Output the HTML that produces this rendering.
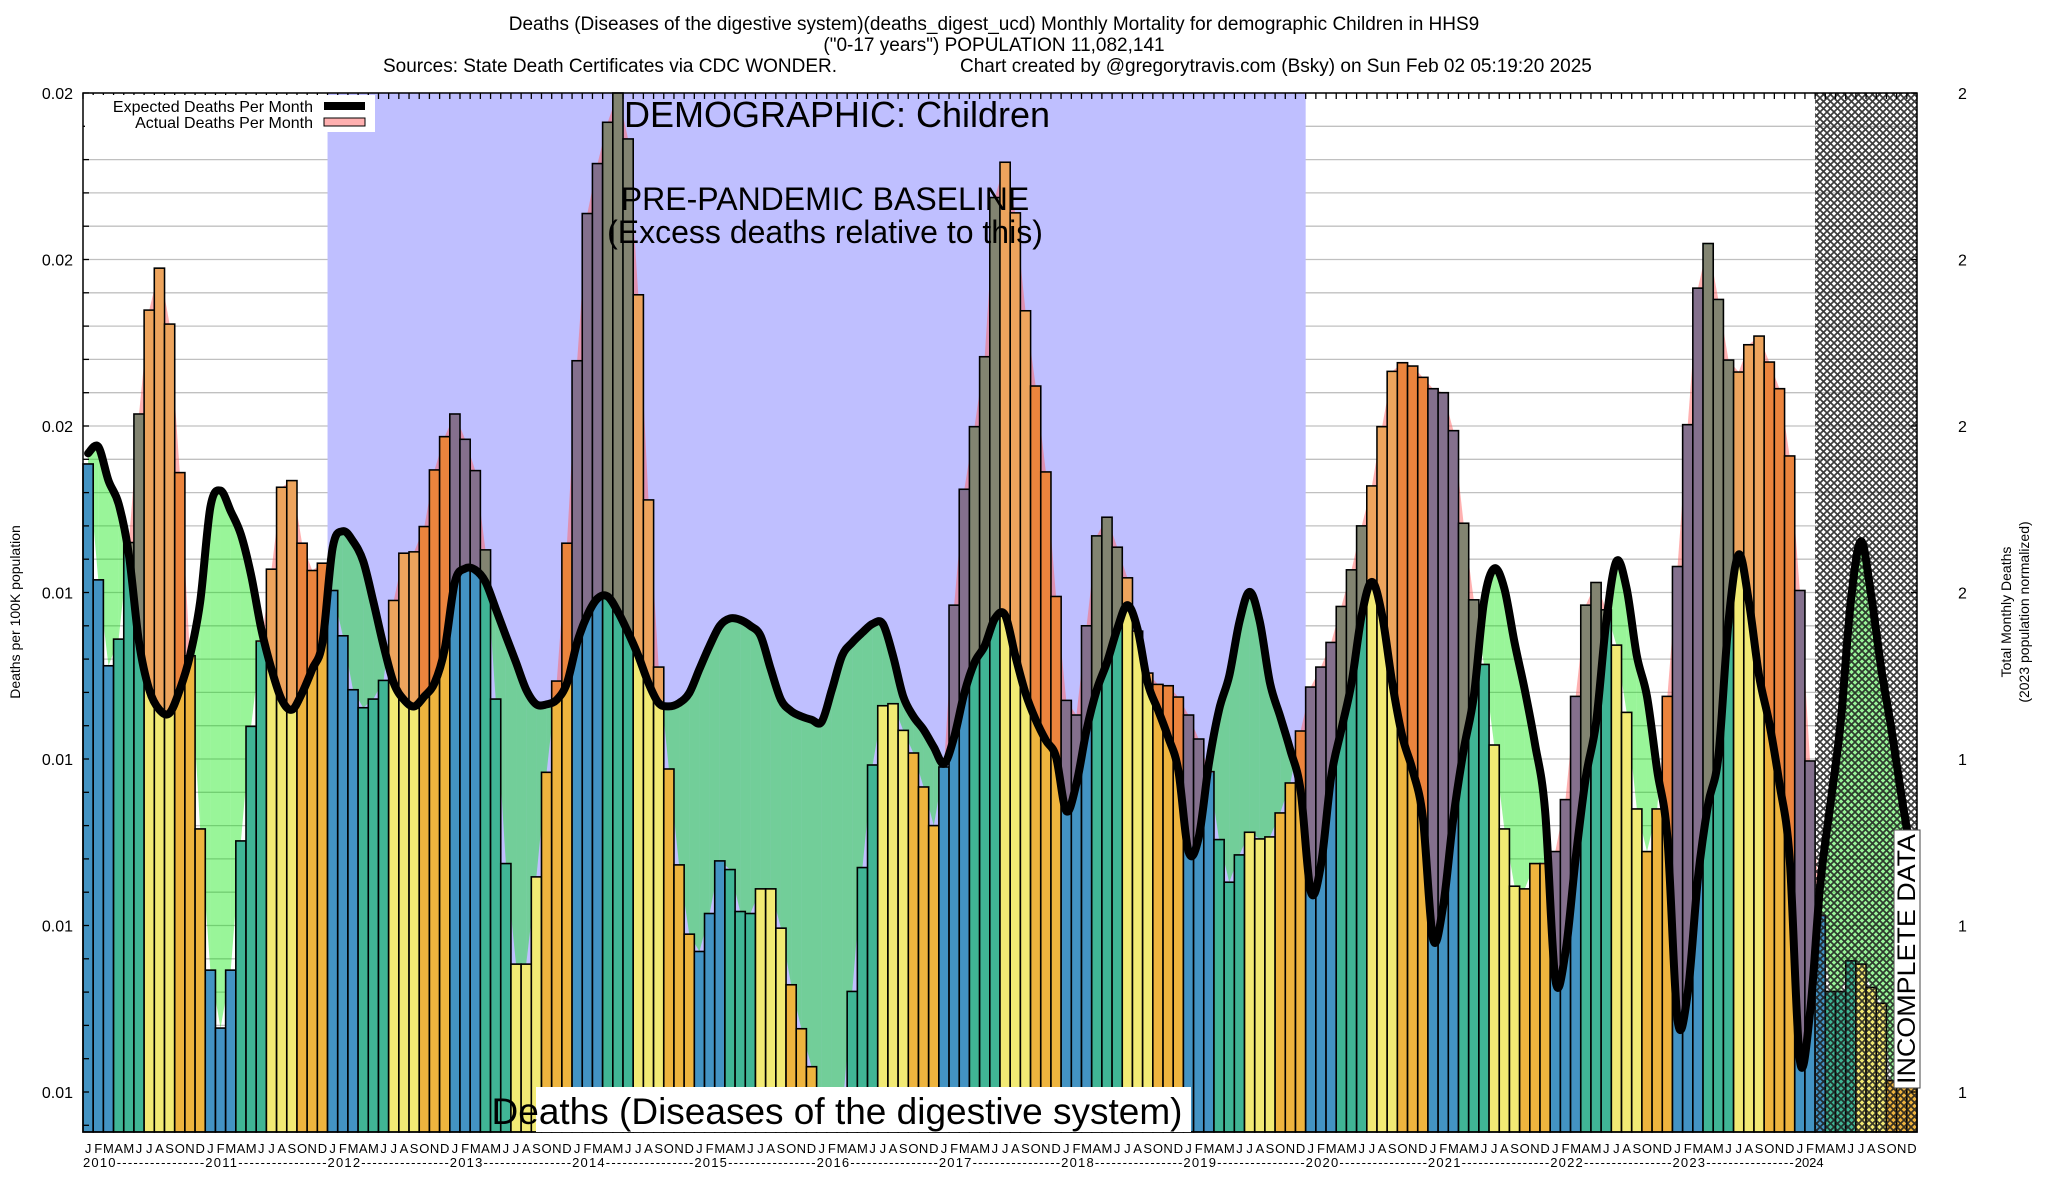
<!DOCTYPE html>
<html><head><meta charset="utf-8">
<style>
html,body{margin:0;padding:0;background:#fff;}
svg{display:block;font-family:"Liberation Sans",sans-serif;}
</style></head>
<body>
<svg id="chart" width="2048" height="1200" viewBox="0 0 2048 1200" xmlns="http://www.w3.org/2000/svg">
<defs>
<pattern id="hatch" patternUnits="userSpaceOnUse" width="7" height="7">
<path d="M0,0 L7,7 M7,0 L0,7 M-1,6 L1,8 M6,-1 L8,1" stroke="#1a1a1a" stroke-width="1.7"/>
</pattern>
</defs>
<g font-size="19" fill="#000">
<text x="994" y="30" text-anchor="middle">Deaths (Diseases of the digestive system)(deaths_digest_ucd) Monthly Mortality for demographic Children in HHS9</text>
<text x="994" y="51" text-anchor="middle">("0-17 years") POPULATION 11,082,141</text>
<text x="383" y="72">Sources: State Death Certificates via CDC WONDER.</text>
<text x="960" y="72">Chart created by @gregorytravis.com (Bsky) on Sun Feb 02 05:19:20 2025</text>
</g>
<g id="plot"></g>
<text transform="translate(20,612) rotate(-90)" text-anchor="middle" font-size="14">Deaths per 100K population</text>
<text transform="translate(2011,612) rotate(-90)" text-anchor="middle" font-size="14">Total Monthly Deaths</text>
<text transform="translate(2029,612) rotate(-90)" text-anchor="middle" font-size="14">(2023 population normalized)</text>
</svg>
<script>
const actualRates = [
0.01443,0.01269,0.01140,0.01180,0.01325,0.01518,0.01674,0.01737,0.01653,0.01430,0.01155,0.00895,
0.00683,0.00596,0.00683,0.00877,0.01049,0.01177,0.01285,0.01408,0.01418,0.01324,0.01283,0.01294,
0.01253,0.01185,0.01104,0.01077,0.01090,0.01118,0.01238,0.01309,0.01311,0.01349,0.01434,0.01484,
0.01518,0.01480,0.01433,0.01314,0.01090,0.00843,0.00692,0.00692,0.00823,0.00980,0.01117,0.01324,
0.01598,0.01819,0.01894,0.01956,0.02000,0.01931,0.01697,0.01389,0.01138,0.00985,0.00841,0.00737,
0.00711,0.00768,0.00847,0.00834,0.00771,0.00768,0.00805,0.00805,0.00746,0.00661,0.00595,0.00538,
0.00487,0.00447,0.00467,0.00651,0.00837,0.00991,0.01080,0.01083,0.01043,0.01009,0.00958,0.00900,
0.00988,0.01231,0.01405,0.01499,0.01604,0.01843,0.01896,0.01820,0.01673,0.01560,0.01431,0.01244,
0.01088,0.01066,0.01200,0.01335,0.01363,0.01318,0.01272,0.01192,0.01129,0.01112,0.01110,0.01093,
0.01066,0.01030,0.00981,0.00879,0.00815,0.00856,0.00890,0.00880,0.00883,0.00919,0.00964,0.01042,
0.01108,0.01138,0.01175,0.01229,0.01284,0.01350,0.01410,0.01499,0.01582,0.01595,0.01590,0.01573,
0.01556,0.01550,0.01493,0.01354,0.01239,0.01142,0.01021,0.00895,0.00809,0.00805,0.00843,0.00843,
0.00861,0.00939,0.01094,0.01231,0.01265,0.01224,0.01171,0.01070,0.00925,0.00861,0.00925,0.01094,
0.01289,0.01502,0.01707,0.01774,0.01690,0.01599,0.01581,0.01622,0.01635,0.01596,0.01556,0.01455,
0.01253,0.00997,0.00765,0.00651,0.00651,0.00697,0.00692,0.00657,0.00633,0.00517,0.00517,0.00517];
const expectedRates = [
0.01459,0.01469,0.01418,0.01383,0.01307,0.01175,0.01104,0.01074,0.01069,0.01104,0.01155,0.01236,
0.01378,0.01403,0.01372,0.01337,0.01276,0.01195,0.01135,0.01089,0.01074,0.01099,0.01135,0.01175,
0.01317,0.01342,0.01327,0.01297,0.01236,0.01170,0.01114,0.01089,0.01079,0.01094,0.01114,0.01165,
0.01266,0.01286,0.01284,0.01266,0.01226,0.01185,0.01145,0.01104,0.01082,0.01082,0.01089,0.01114,
0.01175,0.01216,0.01241,0.01244,0.01221,0.01190,0.01155,0.01114,0.01084,0.01079,0.01084,0.01099,
0.01135,0.01170,0.01200,0.01211,0.01209,0.01200,0.01185,0.01135,0.01089,0.01072,0.01064,0.01059,
0.01056,0.01104,0.01155,0.01175,0.01190,0.01203,0.01203,0.01155,0.01094,0.01064,0.01044,0.01018,
0.00993,0.01033,0.01099,0.01145,0.01170,0.01211,0.01216,0.01155,0.01099,0.01059,0.01028,0.01003,
0.00922,0.00963,0.01044,0.01104,0.01145,0.01195,0.01231,0.01195,0.01114,0.01074,0.01033,0.00983,
0.00861,0.00882,0.00993,0.01074,0.01125,0.01206,0.01251,0.01206,0.01114,0.01064,0.01013,0.00953,
0.00801,0.00841,0.00973,0.01044,0.01114,0.01216,0.01266,0.01216,0.01114,0.01033,0.00983,0.00912,
0.00730,0.00780,0.00912,0.01013,0.01094,0.01236,0.01286,0.01256,0.01175,0.01104,0.01023,0.00922,
0.00669,0.00710,0.00851,0.00973,0.01054,0.01206,0.01297,0.01256,0.01155,0.01094,0.00983,0.00882,
0.00608,0.00649,0.00821,0.00932,0.01003,0.01206,0.01307,0.01236,0.01125,0.01054,0.00963,0.00851,
0.00548,0.00619,0.00811,0.00932,0.01054,0.01236,0.01327,0.01246,0.01135,0.01044,0.00942,0.00851];
const monthLetters = ["J","F","M","A","M","J","J","A","S","O","N","D"];
const yearLabels = ["2010","2011","2012","2013","2014","2015","2016","2017","2018","2019","2020","2021","2022","2023","2024"];
const yTickValues = [0.005,0.0075,0.01,0.0125,0.015,0.0175,0.02];
const yTickLabels = ["0.01","0.01","0.01","0.01","0.02","0.02","0.02"];
const y2TickLabels = ["1","1","1","2","2","2","2"];
const baselineStartMonth = 24, baselineEndMonth = 120, incompleteStartMonth = 170;

const NS = "http://www.w3.org/2000/svg";
const L = 83, R = 1917, T = 93, B = 1132;
const N = actualRates.length;
const W = (R - L) / N;
const V0 = 0.005, V1 = 0.02, Y0 = 1092, Y1 = 93;
function yScale(v){ return Y0 - (v - V0) / (V1 - V0) * (Y0 - Y1); }
function xLeft(i){ return L + i * W; }
function xCenter(i){ return L + (i + 0.5) * W; }
const plot = document.getElementById('plot');
function mk(tag, attrs, parent){
  const e = document.createElementNS(NS, tag);
  for (const k in attrs) e.setAttribute(k, attrs[k]);
  (parent || plot).appendChild(e);
  return e;
}
const gridG = mk('g', {});


for (let k = 0; k <= 32; k++) {
  const y = Y1 + k * (Y0 - Y1) / 30;
  if (y > B) break;
  const ln = mk('line', {x1: L, x2: R, y1: y, y2: y, stroke: '#c0c0c0', 'stroke-width': 1.3}, gridG);
  
  
}
const base = mk('rect', {x: xLeft(baselineStartMonth), y: T, width: xLeft(baselineEndMonth) - xLeft(baselineStartMonth), height: B - T, fill: '#bfbfff'});



const fillG = mk('g', {});


for (let i = 0; i < N - 1; i++) {
  const xa = xCenter(i), xb = xCenter(i + 1);
  const a0 = yScale(actualRates[i]), a1 = yScale(actualRates[i + 1]);
  const e0 = yScale(expectedRates[i]), e1 = yScale(expectedRates[i + 1]);
  const d0 = e0 - a0, d1 = e1 - a1;
  const segs = [];
  if ((d0 >= 0) === (d1 >= 0)) segs.push([xa, xb, a0, a1, e0, e1, d0 + d1 >= 0]);
  else {
    const t = d0 / (d0 - d1);
    const xm = xa + t * (xb - xa), ym = a0 + t * (a1 - a0);
    segs.push([xa, xm, a0, ym, e0, ym, d0 >= 0]);
    segs.push([xm, xb, ym, a1, ym, e1, d1 >= 0]);
  }
  segs.forEach(s => {
    const p = mk('polygon', {points: `${s[0]},${s[2]} ${s[1]},${s[3]} ${s[1]},${s[5]} ${s[0]},${s[4]}`,
      fill: s[6] ? 'rgba(255,100,100,0.5)' : 'rgba(0,230,0,0.4)'}, fillG);
    
    
  });
}
const barColors = ['#4393c3','#4393c3','#4393c3','#40b595','#40b595','#40b595','#f2ea74','#f2ea74','#f2ea74','#eeb43e','#eeb43e','#eeb43e'];
const barG = mk('g', {});


function expAt(x){
  const f = (x - L) / W - 0.5;
  let i = Math.max(0, Math.min(N - 2, Math.floor(f)));
  const t = Math.max(0, Math.min(1, f - i));
  return yScale(expectedRates[i] + t * (expectedRates[i + 1] - expectedRates[i]));
}
for (let i = 0; i < N; i++) {
  const xl = xLeft(i), yt = yScale(actualRates[i]);
  const r = mk('rect', {x: xl, y: yt, width: W, height: B - yt, fill: barColors[i % 12], stroke: '#000', 'stroke-width': 1.6}, barG);
  
  
  const xr = xl + W, xc = xl + W / 2;
  const el = Math.max(yt, expAt(xl + 0.8)), ec = Math.max(yt, expAt(xc)), er = Math.max(yt, expAt(xr - 0.8));
  if (el > yt + 0.5 || ec > yt + 0.5 || er > yt + 0.5) {
    const o = mk('polygon', {points: `${xl+0.8},${yt+0.8} ${xr-0.8},${yt+0.8} ${xr-0.8},${er} ${xc},${ec} ${xl+0.8},${el}`, fill: 'rgba(230,60,60,0.4)'}, barG);
    
    
  }
}
const hatch = mk('rect', {x: xLeft(incompleteStartMonth), y: T, width: R - xLeft(incompleteStartMonth), height: B - T, fill: 'url(#hatch)', opacity: 0.85});



const pts = expectedRates.map((v, i) => [xCenter(i), yScale(v)]);
let d = `M${pts[0][0]},${pts[0][1]}`;
for (let i = 0; i < pts.length - 1; i++) {
  const p0 = pts[Math.max(0, i - 1)], p1 = pts[i], p2 = pts[i + 1], p3 = pts[Math.min(pts.length - 1, i + 2)];
  const c1 = [p1[0] + (p2[0] - p0[0]) / 6, p1[1] + (p2[1] - p0[1]) / 6];
  const c2 = [p2[0] - (p3[0] - p1[0]) / 6, p2[1] - (p3[1] - p1[1]) / 6];
  d += ` C${c1[0]},${c1[1]} ${c2[0]},${c2[1]} ${p2[0]},${p2[1]}`;
}
const line = mk('path', {d: d, fill: 'none', stroke: '#000', 'stroke-width': 8, 'stroke-linejoin': 'round', 'stroke-linecap': 'round'});



const frame = mk('rect', {x: L, y: T, width: R - L, height: B - T, fill: 'none', stroke: '#000', 'stroke-width': 1.5});


const tickG = mk('g', {stroke: '#000', 'stroke-width': 1.3});


for (let i = 0; i <= N; i++) {
  const x = xLeft(i);
  const t = mk('line', {x1: x, x2: x, y1: T, y2: T + 6}, tickG);
  
  
}
for (let k = 0; k <= 31; k++) {
  const y = Y1 + k * (Y0 - Y1) / 30;
  if (y > B) break;
  const t = mk('line', {x1: L, x2: L + 6, y1: y, y2: y}, tickG);
  
  
}
yTickValues.forEach((v, k) => {
  const y = yScale(v);
  const t = mk('text', {x: 73, y: y + 6, 'text-anchor': 'end', 'font-size': 16});
  t.textContent = yTickLabels[k];
  
  
  const t2 = mk('text', {x: 1958, y: y + 6, 'font-size': 16});
  t2.textContent = y2TickLabels[k];
  
  
  const rt = mk('line', {x1: R - 6, x2: R, y1: y, y2: y, stroke: '#000', 'stroke-width': 1.3});
  
  
});
const xg = mk('g', {'font-size': 13, 'font-family': '"Liberation Sans Narrow","Liberation Sans",sans-serif'});


for (let i = 0; i < N; i++) {
  const t = mk('text', {x: xCenter(i), y: 1153, 'text-anchor': 'middle'}, xg);
  t.textContent = monthLetters[i % 12];
  
  
}
yearLabels.forEach((yl, k) => {
  const t = mk('text', {x: xLeft(k * 12), y: 1167, textLength: 12 * W - 1, lengthAdjust: 'spacing'}, xg);
  t.textContent = k < yearLabels.length - 1 ? yl + '----------------' : yl;
  if (k === yearLabels.length - 1) t.removeAttribute('textLength');
  
  
});
</script>
<svg style="position:absolute;left:0;top:0" width="2048" height="1200">
<g>
<rect x="85" y="95" width="290" height="37" fill="#fff"/>
<text x="313" y="112" text-anchor="end" font-size="16" font-family="Liberation Sans, sans-serif">Expected Deaths Per Month</text>
<rect x="324" y="102" width="41" height="8" fill="#000"/>
<text x="313" y="128" text-anchor="end" font-size="16" font-family="Liberation Sans, sans-serif">Actual Deaths Per Month</text>
<rect x="324" y="118" width="41" height="8" fill="#ffb0b0" stroke="#000" stroke-width="1"/>
</g>
<text x="837" y="127" text-anchor="middle" font-size="36" font-family="Liberation Sans, sans-serif">DEMOGRAPHIC: Children</text>
<text x="825" y="210" text-anchor="middle" font-size="32" font-family="Liberation Sans, sans-serif">PRE-PANDEMIC BASELINE</text>
<text x="825" y="243" text-anchor="middle" font-size="32" font-family="Liberation Sans, sans-serif">(Excess deaths relative to this)</text>
<rect x="536" y="1087" width="655" height="45" fill="#fff"/>
<text x="837" y="1124" text-anchor="middle" font-size="37" font-family="Liberation Sans, sans-serif">Deaths (Diseases of the digestive system)</text>
<rect x="1894" y="830" width="26" height="258" fill="#fff" stroke="#444" stroke-width="1"/>
<text transform="translate(1915,959) rotate(-90)" text-anchor="middle" font-size="25" font-family="Liberation Sans Narrow, Liberation Sans, sans-serif" textLength="250" lengthAdjust="spacingAndGlyphs">INCOMPLETE DATA</text>
</svg>
</body></html>
